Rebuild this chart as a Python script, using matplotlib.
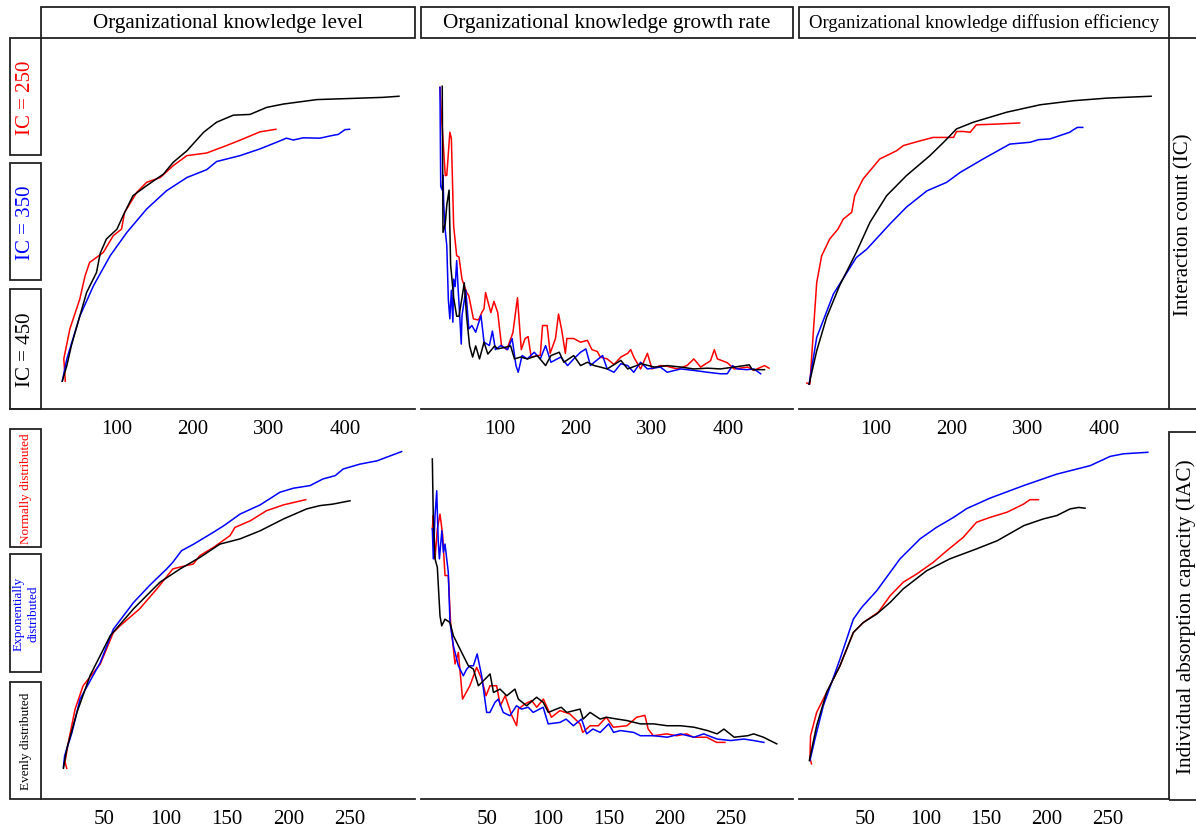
import matplotlib
matplotlib.use('Agg')
import matplotlib.pyplot as plt
from matplotlib.patches import Rectangle
from matplotlib.lines import Line2D

plt.rcParams['font.family'] = ['Liberation Serif', 'DejaVu Serif']

RED, BLUE, BLACK = '#ff0000', '#0000ff', '#000000'

# ---- row 1: interaction count (IC) ----
# knowledge level
lvl_ic250_x = [32, 30, 38, 51, 58, 64, 82, 95, 106, 110, 126, 139, 157, 174, 192, 218, 244, 266, 288, 309]
lvl_ic250_y = [0.075, 0.135, 0.216, 0.296, 0.359, 0.395, 0.422, 0.467, 0.485, 0.53, 0.584, 0.611, 0.624,
               0.656, 0.683, 0.69, 0.71, 0.728, 0.747, 0.754]
lvl_ic350_x = [28, 34, 51, 69, 91, 113, 139, 165, 192, 218, 231, 262, 288, 310, 323, 332, 345, 367, 385, 391, 400, 406]
lvl_ic350_y = [0.075, 0.135, 0.25, 0.332, 0.413, 0.476, 0.539, 0.588, 0.624, 0.645, 0.667, 0.683, 0.701,
               0.719, 0.73, 0.725, 0.731, 0.73, 0.738, 0.74, 0.753, 0.754]
lvl_ic450_x = [28, 34, 40, 51, 60, 73, 78, 86, 100, 108, 121, 139, 161, 174, 192, 214, 231, 253, 275, 297,
               319, 363, 407, 450, 471]
lvl_ic450_y = [0.075, 0.117, 0.171, 0.25, 0.314, 0.368, 0.42, 0.458, 0.485, 0.521, 0.575, 0.602, 0.633,
               0.665, 0.696, 0.746, 0.773, 0.792, 0.794, 0.813, 0.822, 0.834, 0.837, 0.84, 0.843]

# knowledge growth rate
grw_ic250_x = [21, 23, 28, 30, 34, 36, 39, 43, 46, 50, 56, 59, 65, 71, 73, 76, 79, 81, 84, 88, 92, 97, 102,
               109, 117, 123, 128, 133, 137, 141, 153, 156, 162, 166, 173, 177, 181, 186, 188, 197, 206, 215,
               221, 228, 232, 241, 250, 259, 268, 272, 276, 285, 294, 300, 311, 320, 333, 346, 355, 364, 377,
               382, 386, 399, 408, 426, 434, 448, 454]
grw_ic250_y = [0.867, 0.79, 0.629, 0.63, 0.746, 0.73, 0.494, 0.413, 0.41, 0.35, 0.315, 0.305, 0.243, 0.24,
               0.245, 0.26, 0.27, 0.314, 0.29, 0.26, 0.29, 0.26, 0.171, 0.16, 0.206, 0.3, 0.16, 0.19, 0.195,
               0.14, 0.145, 0.225, 0.225, 0.15, 0.19, 0.256, 0.215, 0.15, 0.19, 0.19, 0.18, 0.185, 0.16,
               0.155, 0.14, 0.135, 0.12, 0.14, 0.15, 0.16, 0.14, 0.108, 0.15, 0.108, 0.117, 0.115, 0.108,
               0.117, 0.135, 0.113, 0.13, 0.16, 0.135, 0.125, 0.108, 0.113, 0.104, 0.117, 0.11]
grw_ic350_x = [21, 22, 24, 25, 26, 28, 30, 32, 34, 36, 38, 39, 41, 43, 45, 47, 49, 50, 55, 59, 63, 68, 75,
               79, 86, 90, 94, 101, 110, 116, 121, 124, 129, 136, 145, 153, 160, 167, 180, 189, 197, 206,
               213, 219, 224, 235, 241, 250, 259, 268, 276, 285, 294, 311, 320, 338, 355, 373, 390, 399,
               406, 412, 425, 434, 443]
grw_ic350_y = [0.867, 0.6, 0.59, 0.63, 0.55, 0.48, 0.44, 0.296, 0.243, 0.32, 0.234, 0.35, 0.33, 0.4, 0.32,
               0.252, 0.175, 0.252, 0.32, 0.216, 0.225, 0.207, 0.252, 0.18, 0.171, 0.21, 0.16, 0.171, 0.16,
               0.19, 0.117, 0.099, 0.144, 0.135, 0.153, 0.135, 0.171, 0.126, 0.14, 0.117, 0.135, 0.153,
               0.162, 0.117, 0.126, 0.144, 0.108, 0.099, 0.122, 0.117, 0.099, 0.126, 0.108, 0.113, 0.099,
               0.108, 0.104, 0.099, 0.095, 0.095, 0.117, 0.108, 0.106, 0.108, 0.095]
grw_ic450_x = [24, 25, 28, 30, 33, 35, 39, 43, 46, 50, 53, 56, 60, 64, 68, 73, 79, 84, 93, 97, 106, 114, 119,
               127, 136, 149, 160, 167, 178, 184, 197, 206, 215, 224, 232, 241, 259, 268, 286, 303, 320, 338,
               355, 373, 390, 408, 428, 432, 448]
grw_ic450_y = [0.87, 0.476, 0.5, 0.55, 0.59, 0.39, 0.3, 0.25, 0.25, 0.3, 0.34, 0.25, 0.17, 0.14, 0.17, 0.135,
               0.18, 0.148, 0.17, 0.162, 0.166, 0.17, 0.135, 0.14, 0.135, 0.144, 0.117, 0.144, 0.153,
               0.126, 0.144, 0.117, 0.126, 0.117, 0.113, 0.108, 0.131, 0.108, 0.122, 0.113, 0.117, 0.113,
               0.108, 0.11, 0.108, 0.113, 0.119, 0.106, 0.106]

# knowledge diffusion efficiency
dif_ic250_x = [9, 13, 17.5, 22, 28.5, 39, 50, 57, 68, 72, 83, 105, 127, 136, 153, 175, 202, 206, 215, 224,
               232, 259, 289]
dif_ic250_y = [0.07, 0.067, 0.207, 0.341, 0.413, 0.458, 0.485, 0.512, 0.53, 0.575, 0.62, 0.674, 0.696,
               0.71, 0.72, 0.732, 0.732, 0.748, 0.748, 0.746, 0.766, 0.768, 0.771]
dif_ic350_x = [12, 22, 44, 74, 88, 118, 140, 167, 193, 211, 241, 276, 303, 314, 329, 355, 360, 365, 372]
dif_ic350_y = [0.067, 0.193, 0.31, 0.408, 0.431, 0.498, 0.544, 0.588, 0.611, 0.638, 0.674, 0.714, 0.719,
               0.726, 0.728, 0.746, 0.753, 0.759, 0.759]
dif_ic450_x = [12, 22, 35, 52, 74, 92, 114, 140, 171, 189, 206, 228, 272, 316, 360, 404, 462]
dif_ic450_y = [0.067, 0.157, 0.247, 0.332, 0.422, 0.503, 0.575, 0.629, 0.683, 0.719, 0.755, 0.773, 0.8,
               0.82, 0.831, 0.838, 0.843]

# ---- row 2: individual absorption capacity (IAC) ----
lvl_norm_x = [19.7, 18.3, 21, 26.5, 33, 47, 57.6, 63, 79, 93, 106, 117, 122.6, 128, 139, 152.5, 156.5, 169,
              182, 196, 214]
lvl_norm_y = [0.083, 0.1, 0.153, 0.243, 0.306, 0.365, 0.45, 0.468, 0.514, 0.568, 0.622, 0.631, 0.635, 0.658,
              0.68, 0.712, 0.734, 0.752, 0.779, 0.795, 0.809]
lvl_expo_x = [17, 18, 24, 30.5, 47, 57.6, 74, 87, 101, 106, 113, 123, 139, 148, 160.6, 177, 193, 204, 217.5,
              228, 238, 244.5, 258, 272, 292]
lvl_expo_y = [0.086, 0.117, 0.18, 0.27, 0.369, 0.459, 0.531, 0.577, 0.622, 0.64, 0.671, 0.689, 0.721, 0.74,
              0.77, 0.795, 0.829, 0.84, 0.847, 0.865, 0.874, 0.892, 0.905, 0.914, 0.939]
lvl_even_x = [17, 19.7, 28, 38.6, 55, 74, 95.5, 112, 128, 144.3, 160.6, 177, 196, 214.7, 225.6, 236, 250]
lvl_even_y = [0.083, 0.135, 0.234, 0.333, 0.441, 0.514, 0.586, 0.622, 0.653, 0.689, 0.703, 0.725, 0.757,
              0.784, 0.793, 0.797, 0.806]

grw_norm_x = [5.2, 6, 7.4, 9.3, 11.5, 13.7, 15.6, 18.3, 20.2, 23.8, 26.6, 30, 36, 41.6, 45.7, 49.3, 52.5,
              58, 61, 65, 70.5, 74.4, 75.8, 81.3, 86.8, 90.9, 96.4, 103, 110, 118, 126.5, 128.7, 134.7,
              141.5, 148, 153.8, 165, 173, 179.7, 182.4, 186.6, 197.5, 205.7, 214, 219.5, 230.4, 238.6, 245.4]
grw_norm_y = [0.73, 0.766, 0.649, 0.73, 0.77, 0.712, 0.604, 0.604, 0.477, 0.365, 0.396, 0.27, 0.306, 0.356,
              0.324, 0.279, 0.306, 0.306, 0.252, 0.279, 0.225, 0.198, 0.243, 0.257, 0.266, 0.248, 0.27,
              0.221, 0.239, 0.23, 0.203, 0.18, 0.198, 0.198, 0.221, 0.194, 0.198, 0.221, 0.226, 0.189,
              0.171, 0.176, 0.171, 0.176, 0.167, 0.167, 0.153, 0.153]
grw_expo_x = [5.2, 6, 7.4, 8.8, 10, 11, 13, 14.3, 15.6, 18.3, 19.7, 22.5, 26.6, 30.6, 33.4, 36, 38.9, 42,
              45.7, 49.8, 52.5, 56.6, 59.3, 63.4, 68.9, 74.3, 78.4, 83.9, 88, 96.2, 100.3, 110, 115, 121,
              127.7, 131.9, 137, 143, 150, 154, 159.6, 170.5, 176, 187, 198, 209, 220, 228, 239, 250, 261,
              269, 277.4]
grw_expo_y = [0.73, 0.649, 0.766, 0.833, 0.7, 0.649, 0.725, 0.667, 0.689, 0.613, 0.477, 0.414, 0.36, 0.333,
              0.351, 0.36, 0.36, 0.392, 0.333, 0.234, 0.234, 0.261, 0.27, 0.234, 0.225, 0.252, 0.243,
              0.248, 0.234, 0.248, 0.203, 0.207, 0.216, 0.198, 0.216, 0.176, 0.189, 0.18, 0.203, 0.18,
              0.185, 0.18, 0.171, 0.171, 0.167, 0.176, 0.167, 0.176, 0.162, 0.158, 0.162, 0.158, 0.153]
grw_even_x = [5.2, 6, 7.4, 9.3, 11.5, 12.9, 15.6, 19.7, 22.5, 26.6, 29.3, 34.8, 38.9, 43, 48.5, 52.6, 55.4,
              60.8, 66.3, 73, 75.8, 82.6, 90.8, 96.3, 100.4, 107, 111, 115.6, 126.5, 129, 134.7, 143, 148,
              157, 165, 176, 187, 198, 209, 220, 231, 239, 244.6, 253, 264, 269, 277, 282.5, 288]
grw_even_y = [0.919, 0.757, 0.649, 0.626, 0.495, 0.468, 0.486, 0.477, 0.441, 0.414, 0.396, 0.36, 0.351,
              0.306, 0.324, 0.338, 0.288, 0.297, 0.279, 0.297, 0.27, 0.252, 0.275, 0.261, 0.234, 0.243,
              0.248, 0.234, 0.243, 0.216, 0.234, 0.216, 0.221, 0.216, 0.212, 0.203, 0.203, 0.198, 0.198,
              0.194, 0.185, 0.176, 0.189, 0.167, 0.171, 0.176, 0.167, 0.158, 0.149]

dif_norm_x = [6.2, 4.9, 5.4, 10.4, 18.6, 29.6, 40.6, 48.8, 61.2, 70.8, 81.7, 92.7, 106.5, 117.5, 131, 142,
              153, 167, 180.7, 186, 193]
dif_norm_y = [0.095, 0.11, 0.171, 0.234, 0.288, 0.36, 0.45, 0.477, 0.505, 0.549, 0.586, 0.608, 0.64, 0.671,
              0.707, 0.748, 0.761, 0.775, 0.797, 0.809, 0.809]
dif_expo_x = [4.9, 9, 15.9, 29.6, 40.6, 47.5, 59.9, 79, 95.5, 109, 123, 134, 153, 180.7, 208, 235.6, 252,
              263, 283]
dif_expo_y = [0.104, 0.162, 0.252, 0.378, 0.486, 0.518, 0.563, 0.649, 0.703, 0.734, 0.761, 0.785, 0.813,
              0.847, 0.878, 0.901, 0.926, 0.933, 0.937]
dif_even_x = [4.4, 10.4, 18.6, 29.6, 40.6, 48.8, 59.9, 70.8, 81.7, 101, 120, 142, 159, 181, 197, 208, 219,
              226, 231.3]
dif_even_y = [0.104, 0.198, 0.288, 0.36, 0.45, 0.477, 0.5, 0.531, 0.568, 0.617, 0.649, 0.676, 0.698, 0.739,
              0.757, 0.766, 0.784, 0.788, 0.786]

headers = ['Organizational knowledge level', 'Organizational knowledge growth rate',
           'Organizational knowledge diffusion efficiency']
row_titles = ['Interaction count (IC)', 'Individual absorption capacity (IAC)']
ic_labels = ['IC = 250', 'IC = 350', 'IC = 450']
iac_labels = ['Normally distributed', 'Exponentially\ndistributed', 'Evenly distributed']
row1_ticks = [100, 200, 300, 400]
row2_ticks = [50, 100, 150, 200, 250]

# ---- layout in pixels ----
W, H = 1196, 829
fig = plt.figure(figsize=(W / 100, H / 100), dpi=100)


def fx(px):
    return px / W


def fy(py):
    return 1 - py / H


def box(x0, y0, x1, y1):
    fig.add_artist(Rectangle((fx(x0), fy(y1)), fx(x1) - fx(x0), fy(y0) - fy(y1),
                             transform=fig.transFigure, fill=False, ec='#222222', lw=1.3))


def hline(x0, x1, y):
    fig.add_artist(Line2D([fx(x0), fx(x1)], [fy(y), fy(y)], transform=fig.transFigure,
                          color='#222222', lw=1.3))


cols = [(41, 415), (421, 793), (799, 1169)]
rows = [(39, 410), (430, 800)]
zero_px = [[41, 424, 800], [42.5, 426, 804]]
px_per_unit = [[0.76, 0.76, 0.76], [1.23, 1.218, 1.215]]

series = [
    [[(lvl_ic250_x, lvl_ic250_y), (lvl_ic350_x, lvl_ic350_y), (lvl_ic450_x, lvl_ic450_y)],
     [(grw_ic250_x, grw_ic250_y), (grw_ic350_x, grw_ic350_y), (grw_ic450_x, grw_ic450_y)],
     [(dif_ic250_x, dif_ic250_y), (dif_ic350_x, dif_ic350_y), (dif_ic450_x, dif_ic450_y)]],
    [[(lvl_norm_x, lvl_norm_y), (lvl_expo_x, lvl_expo_y), (lvl_even_x, lvl_even_y)],
     [(grw_norm_x, grw_norm_y), (grw_expo_x, grw_expo_y), (grw_even_x, grw_even_y)],
     [(dif_norm_x, dif_norm_y), (dif_expo_x, dif_expo_y), (dif_even_x, dif_even_y)]],
]
colors = [RED, BLUE, BLACK]

for r, (top, bot) in enumerate(rows):
    for c, (left, right) in enumerate(cols):
        ax = fig.add_axes([fx(left), fy(bot), fx(right) - fx(left), fy(top) - fy(bot)])
        z, s = zero_px[r][c], px_per_unit[r][c]
        ax.set_xlim((left - z) / s, (right - z) / s)
        ax.set_ylim(0, 1)
        for (xs, ys), col in zip(series[r][c], colors):
            ax.plot(xs, ys, color=col, lw=1.1)
        for sp in ['top', 'left', 'right']:
            ax.spines[sp].set_visible(False)
        ax.spines['bottom'].set_linewidth(1.3)
        ax.spines['bottom'].set_color('#222222')
        ax.set_xticks(row1_ticks if r == 0 else row2_ticks)
        ax.set_yticks([])
        ax.tick_params(axis='x', length=0, pad=7, labelsize=15)
        ax.patch.set_alpha(0)

# column headers
for (left, right), txt, fs in zip(cols, headers, [15.2, 15.3, 13.5]):
    box(left, 8, right, 39)
    fig.text(fx((left + right) / 2), fy(23.5), txt, ha='center', va='center', fontsize=fs)

# left side label boxes
top_boxes = [(39, 156), (164, 281), (290, 410)]
bot_boxes = [(430, 548), (555, 673), (683, 800)]
for (y0, y1), txt, col in zip(top_boxes, ic_labels, colors):
    box(10, y0, 41, y1)
    fig.text(fx(26), fy((y0 + y1) / 2), txt, rotation=90, ha='center', va='center',
             fontsize=15, color=col)
for (y0, y1), txt, col in zip(bot_boxes, iac_labels, colors):
    box(10, y0, 41, y1)
    fig.text(fx(26), fy((y0 + y1) / 2), txt, rotation=90, ha='center', va='center',
             fontsize=9.5, color=col, linespacing=1.3, multialignment='center')
hline(10, 41, 410)

# right side row boxes
box(1169, 39, 1210, 410)
box(1169, 433, 1210, 801)
fig.text(fx(1184), fy(225), row_titles[0], rotation=90, ha='center', va='center', fontsize=15)
fig.text(fx(1186), fy(617), row_titles[1], rotation=90, ha='center', va='center', fontsize=15.3)

fig.savefig('out.png', dpi=100)
